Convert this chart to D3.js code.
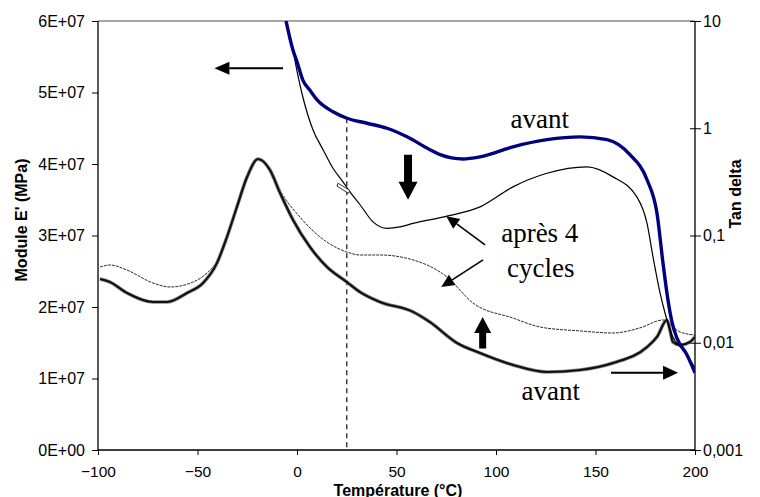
<!DOCTYPE html>
<html>
<head>
<meta charset="utf-8">
<script src="https://cdn.jsdelivr.net/npm/d3@7"></script>
<style>
  body { margin: 0; background: #fff; }
  svg { display: block; }
  .tick text { font-family: Arial, "Liberation Sans", sans-serif; fill: #000; }
  .note { font-family: "Times New Roman", "Liberation Serif", serif; font-size: 27px; fill: #000; }
  .title { font-family: Arial, "Liberation Sans", sans-serif; font-weight: bold; font-size: 16px; fill: #000; }
</style>
</head>
<body>
<div class="container"></div>
<script>
// E' (left axis), temperature in °C
var eAvantT = [-5.5, -2, 0, 3, 6.5, 10, 18.1, 25.1, 35.2, 45.2, 55.3, 66.8, 71.9, 83.4, 92, 108.5, 125.6, 142.2, 155.8, 167.3, 175.9, 180.9, 183.9, 186.4, 188.5, 191, 196, 200]
var eAvantV = [6.0e7, 5.59e7, 5.43e7, 5.17e7, 5.03e7, 4.90e7, 4.73e7, 4.64e7, 4.57e7, 4.50e7, 4.38e7, 4.20e7, 4.13e7, 4.07e7, 4.10e7, 4.24e7, 4.34e7, 4.38e7, 4.34e7, 4.13e7, 3.78e7, 3.31e7, 2.62e7, 2.10e7, 1.78e7, 1.56e7, 1.33e7, 1.08e7]

var eApresT = [-5.5, -2, 0, 3, 8, 13.1, 18.1, 23.1, 26.6, 31.7, 38.2, 45.2, 51.8, 58.3, 75.4, 92, 108.5, 125.6, 145.7, 158.8, 170.8, 175.9, 178.9, 182.4, 184.9, 188.4, 194.9, 200]
var eApresV = [6.0e7, 5.59e7, 5.30e7, 4.93e7, 4.48e7, 4.20e7, 3.94e7, 3.75e7, 3.61e7, 3.43e7, 3.19e7, 3.10e7, 3.12e7, 3.17e7, 3.27e7, 3.40e7, 3.68e7, 3.87e7, 3.96e7, 3.82e7, 3.54e7, 3.17e7, 2.70e7, 2.20e7, 1.92e7, 1.61e7, 1.37e7, 1.15e7]

// tan delta (right axis, log)
var tdAvantT = [-99, -94, -85.4, -72.4, -65.3, -55.3, -47.2, -40.2, -35.2, -30.2, -25.1, -19.6, -13.6, -8.5, -2, 6.5, 15.1, 25.1, 31.7, 41.7, 58.3, 66.8, 80.4, 92, 108.5, 125.6, 142.2, 158.8, 175.9, 180.9, 185.9, 187.4, 188.9, 192.5, 197.5, 200]
var tdAvantV = [0.0393, 0.0368, 0.0291, 0.0240, 0.0240, 0.0291, 0.0361, 0.0555, 0.0968, 0.1845, 0.351, 0.516, 0.408, 0.249, 0.1397, 0.0782, 0.0508, 0.0368, 0.0297, 0.0240, 0.0194, 0.0156, 0.00995, 0.00801, 0.00621, 0.00533, 0.00557, 0.00647, 0.00912, 0.01133, 0.0163, 0.01315, 0.01016, 0.00953, 0.01016, 0.01133]

var tdApresT = [-99, -94, -85.4, -72.4, -63.8, -52.3, -45.2, -40.2, -35.2, -30.2, -25.1, -19.6, -13.6, -8.5, 1.5, 11.6, 25.1, 31.7, 41.7, 58.3, 75.4, 88.4, 108.5, 122.1, 142.2, 158.8, 172.3, 183.9, 192.5, 200]
var tdApresV = [0.0508, 0.0531, 0.0476, 0.0361, 0.0331, 0.0368, 0.0447, 0.0578, 0.098, 0.188, 0.357, 0.516, 0.426, 0.265, 0.1485, 0.0968, 0.0701, 0.0658, 0.0658, 0.0592, 0.0410, 0.0235, 0.0170, 0.01403, 0.01289, 0.01233, 0.01375, 0.0163, 0.01259, 0.0118]

var xTicks = [-100, -50, 0, 50, 100, 150, 200]
var yLeftTicks = [0, 1e7, 2e7, 3e7, 4e7, 5e7, 6e7]
var yLeftLabels = ["0E+00", "1E+07", "2E+07", "3E+07", "4E+07", "5E+07", "6E+07"]
var yRightTicks = [0.001, 0.01, 0.1, 1, 10]
var yRightLabels = ["0,001", "0,01", "0,1", "1", "10"]

var margin = { top: 21, right: 65, bottom: 47, left: 98 },
  W = 760, H = 497,
  width = W - margin.left - margin.right,
  height = H - margin.top - margin.bottom;

var svg = d3.select(".container").append("svg")
  .attr("width", W)
  .attr("height", H)

var g = svg.append("g")
  .attr("transform", "translate(" + margin.left + "," + margin.top + ")")

var x = d3.scaleLinear().domain([-100, 200]).range([0, width])
var yL = d3.scaleLinear().domain([0, 6e7]).range([height, 0])
var yR = d3.scaleLog().domain([0.001, 10]).range([height, 0])

// frame: grey top line
g.append("line")
  .attr("x1", 0).attr("x2", width).attr("y1", 0).attr("y2", 0)
  .attr("stroke", "#8a8a8a").attr("stroke-width", 1.5)

// ---------- AXES ----------
var ax = g.append("g").attr("transform", "translate(0," + height + ")")
  .call(d3.axisBottom(x).tickValues(xTicks).tickSize(5).tickFormat(d3.format("d")))
ax.selectAll("text").attr("y", 16).attr("dy", "0.71em").style("font-size", "15.5px")

var al = g.append("g")
  .call(d3.axisLeft(yL).tickValues(yLeftTicks).tickSize(6).tickFormat(function(d, i) { return yLeftLabels[i] }))
al.selectAll("text").attr("x", -13).style("font-size", "16px")

var ar = g.append("g").attr("transform", "translate(" + width + ",0)")
  .call(d3.axisRight(yR).tickValues(yRightTicks).tickSize(6).tickFormat(function(d, i) { return yRightLabels[i] }))
ar.selectAll(".tick line").attr("x1", -5)
ar.selectAll("text").attr("x", 8).style("font-size", "16px")

g.selectAll(".domain").attr("stroke", "#000").attr("stroke-width", 1.3)
g.selectAll(".tick line").attr("stroke", "#000").attr("stroke-width", 1)
// remove outer domain caps so the top stays grey
ax.select(".domain").attr("d", "M0,0H" + width)
al.select(".domain").attr("d", "M0," + height + "V0")
ar.select(".domain").attr("d", "M0," + height + "V0")

// titles
svg.append("text").attr("class", "title")
  .attr("transform", "translate(27,220) rotate(-90)")
  .attr("text-anchor", "middle").text("Module E' (MPa)")
svg.append("text").attr("class", "title")
  .attr("transform", "translate(741,194) rotate(-90)")
  .attr("text-anchor", "middle").text("Tan delta")
svg.append("text").attr("class", "title")
  .attr("x", 398).attr("y", 495.5)
  .attr("text-anchor", "middle").text("Température (°C)")

// ---------- CURVES ----------
var clip = svg.append("defs").append("clipPath").attr("id", "plot")
clip.append("rect").attr("x", 0).attr("y", 0).attr("width", width).attr("height", height)
var plot = g.append("g").attr("clip-path", "url(#plot)")

function series(t, v) { return t.map(function(d, i) { return [d, v[i]] }) }
var lineL = d3.line().x(function(d) { return x(d[0]) }).y(function(d) { return yL(d[1]) }).curve(d3.curveMonotoneX)
var lineR = d3.line().x(function(d) { return x(d[0]) }).y(function(d) { return yR(d[1]) }).curve(d3.curveMonotoneX)

// dashed marker at 25 °C
plot.append("line")
  .attr("x1", x(25)).attr("x2", x(25))
  .attr("y1", yL(4.64e7)).attr("y2", height)
  .attr("stroke", "#333").attr("stroke-width", 1.4).attr("stroke-dasharray", "5,4")

plot.append("path").datum(series(tdApresT, tdApresV))
  .attr("d", lineR).attr("fill", "none").attr("stroke", "#111")
  .attr("stroke-width", 0.9).attr("stroke-dasharray", "3,1")

plot.append("path").datum(series(tdAvantT, tdAvantV))
  .attr("d", lineR).attr("fill", "none").attr("stroke", "#888").attr("stroke-width", 3.6)
plot.append("path").datum(series(tdAvantT, tdAvantV))
  .attr("d", lineR).attr("fill", "none").attr("stroke", "#111").attr("stroke-width", 2.1)

plot.append("path").datum(series(eApresT, eApresV))
  .attr("d", lineL).attr("fill", "none").attr("stroke", "#000").attr("stroke-width", 1.2)

plot.append("path").datum(series(eAvantT, eAvantV))
  .attr("d", lineL).attr("fill", "none").attr("stroke", "#000080").attr("stroke-width", 3.4)

// small open marker on the thin curve near 25 °C
g.append("path")
  .attr("d", "M" + x(20.6) + "," + yL(3.73e7) + "L" + x(26.6) + "," + yL(3.63e7) +
    "L" + x(25.8) + "," + yL(3.59e7) + "L" + x(20.1) + "," + yL(3.69e7) + "Z")
  .attr("fill", "#fff").attr("stroke", "#000").attr("stroke-width", 0.8)

// ---------- ARROWS ----------
function arrow(x1, y1, x2, y2, len, half, sw) {
  var a = Math.atan2(y2 - y1, x2 - x1)
  var bx = x2 - len * Math.cos(a), by = y2 - len * Math.sin(a)
  g.append("line").attr("x1", x1).attr("y1", y1).attr("x2", bx).attr("y2", by)
    .attr("stroke", "#000").attr("stroke-width", sw)
  var p1 = [bx + half * Math.sin(a), by - half * Math.cos(a)]
  var p2 = [bx - half * Math.sin(a), by + half * Math.cos(a)]
  g.append("path").attr("d", "M" + x2 + "," + y2 + "L" + p1 + "L" + p2 + "Z").attr("fill", "#000")
}

function blockArrow(cx, yTail, yTip, headLen, headHalf, shaftHalf) {
  var dir = yTip > yTail ? 1 : -1
  var yb = yTip - dir * headLen
  g.append("path").attr("d",
    "M" + (cx - shaftHalf) + "," + yTail + "L" + (cx - shaftHalf) + "," + yb +
    "L" + (cx - headHalf) + "," + yb + "L" + cx + "," + yTip +
    "L" + (cx + headHalf) + "," + yb + "L" + (cx + shaftHalf) + "," + yb +
    "L" + (cx + shaftHalf) + "," + yTail + "Z").attr("fill", "#000")
}

arrow(x(-7), yL(5.34e7), x(-41.5), yL(5.34e7), 15, 6.5, 2)    // to left axis
arrow(x(157.8), yL(1.08e7), x(191.5), yL(1.08e7), 15, 7, 2)   // to right axis
arrow(x(94.5), yL(2.87e7), x(75), yL(3.27e7), 13, 6, 1.6)     // après 4 cycles, E'
arrow(x(93.5), yL(2.66e7), x(72.5), yL(2.28e7), 13, 6, 1.6)   // après 4 cycles, tan delta

blockArrow(x(55.8), yL(4.13e7), yL(3.50e7), 18, 9.5, 4)
blockArrow(x(93.3), yL(1.42e7), yL(1.86e7), 16, 8.5, 3.5)

// ---------- LABELS ----------
g.append("text").attr("class", "note").attr("text-anchor", "middle")
  .attr("x", x(122)).attr("y", yL(4.50e7)).text("avant")
g.append("text").attr("class", "note").attr("text-anchor", "middle")
  .attr("x", x(122)).attr("y", yL(2.91e7)).text("après 4")
g.append("text").attr("class", "note").attr("text-anchor", "middle")
  .attr("x", x(122.5)).attr("y", yL(2.42e7)).text("cycles")
g.append("text").attr("class", "note").attr("text-anchor", "middle")
  .attr("x", x(127.5)).attr("y", yL(0.70e7)).text("avant")
</script>
</body>
</html>
